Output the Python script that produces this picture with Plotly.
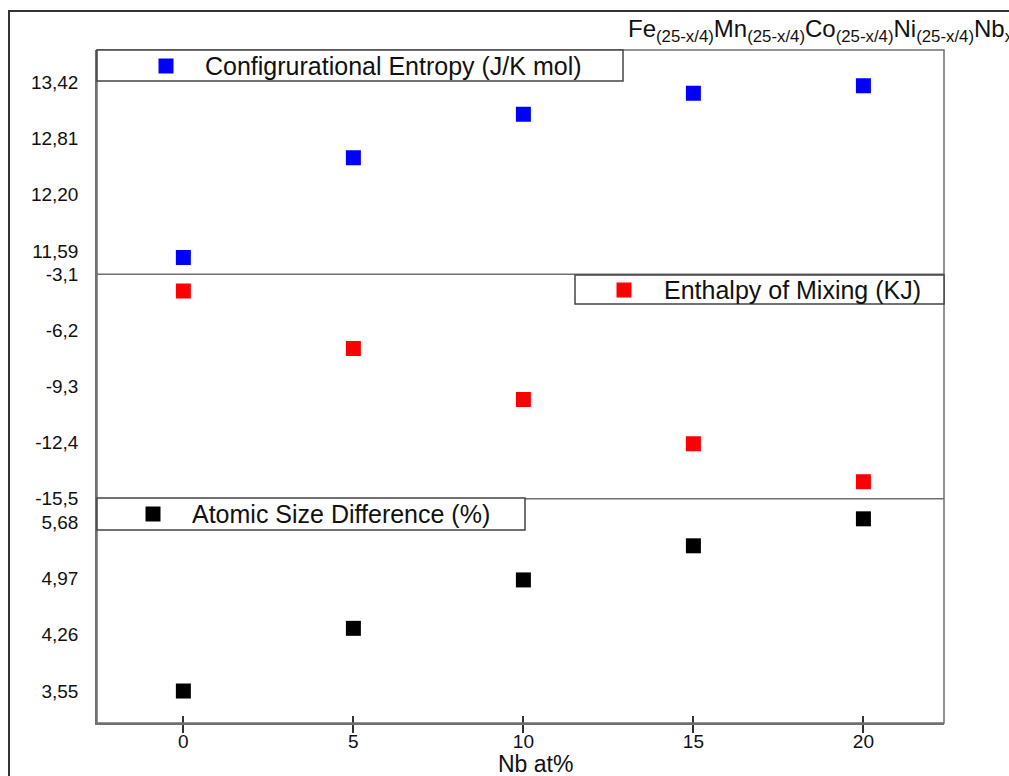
import plotly.graph_objects as go

# ---- data ----
nb_at = [0, 5, 10, 15, 20]
config_entropy = [11.52, 12.60, 13.07, 13.30, 13.38]
enthalpy_mixing = [-4.02, -7.20, -10.02, -12.46, -14.56]
atomic_size_diff = [3.55, 4.34, 4.95, 5.38, 5.72]

x_ticks = [0, 5, 10, 15, 20]
top_tickvals = [11.59, 12.20, 12.81, 13.42]
top_ticktext = ["11,59", "12,20", "12,81", "13,42"]
mid_tickvals = [-15.5, -12.4, -9.3, -6.2, -3.1]
mid_ticktext = ["-15,5", "-12,4", "-9,3", "-6,2", "-3,1"]
bot_tickvals = [3.55, 4.26, 4.97, 5.68]
bot_ticktext = ["3,55", "4,26", "4,97", "5,68"]

series_names = ["Configrurational Entropy (J/K mol)", "Enthalpy of Mixing (KJ)",
                "Atomic Size Difference (%)"]
series_colors = ["#0000ff", "#ff0000", "#000000"]

# ---- layout geometry (pixels) ----
W, H = 1009, 776
L, R, T, B = 97, 944, 50, 723
PW, PH = R - L, B - T


def px_x(px):
    return (px - L) / PW


def px_y(py):
    return (B - py) / PH


FONT = "Liberation Sans, Arial, sans-serif"
AXC = "#707070"
TXT = "#111111"

fig = go.Figure()
fig.add_trace(go.Scatter(x=nb_at, y=config_entropy, mode="markers", xaxis="x", yaxis="y",
                         marker=dict(symbol="square", size=15, color=series_colors[0]),
                         name=series_names[0], showlegend=False))
fig.add_trace(go.Scatter(x=nb_at, y=enthalpy_mixing, mode="markers", xaxis="x", yaxis="y2",
                         marker=dict(symbol="square", size=15, color=series_colors[1]),
                         name=series_names[1], showlegend=False))
fig.add_trace(go.Scatter(x=nb_at, y=atomic_size_diff, mode="markers", xaxis="x", yaxis="y3",
                         marker=dict(symbol="square", size=15, color=series_colors[2]),
                         name=series_names[2], showlegend=False))

xrange = [-2.54, 22.37]
yaxis_common = dict(showgrid=False, zeroline=False, showline=True, linecolor=AXC, linewidth=1.5,
                    ticks="", ticklabelstandoff=13,
                    tickfont=dict(family=FONT, size=19, color=TXT), tickmode="array")

fig.update_layout(
    width=W, height=H,
    margin=dict(l=L, r=W - R, t=T, b=H - B),
    paper_bgcolor="white", plot_bgcolor="white",
    showlegend=False,
    xaxis=dict(range=xrange, anchor="y3", showgrid=False, zeroline=False,
               showline=True, linecolor=AXC, linewidth=1.5,
               tickmode="array", tickvals=x_ticks, ticktext=[str(v) for v in x_ticks],
               ticks="outside", ticklen=8, tickwidth=1.5, tickcolor="#333333",
               ticklabelstandoff=-8,
               tickfont=dict(family=FONT, size=19, color=TXT)),
    xaxis2=dict(range=xrange, matches="x", overlaying="x", anchor="y3", showgrid=False,
                zeroline=False, showline=False, tickmode="array", tickvals=x_ticks,
                ticks="inside", ticklen=7, tickwidth=1.5, tickcolor="#333333",
                showticklabels=False),
    yaxis=dict(domain=[2 / 3, 1], range=[11.338, 13.767], anchor="x",
               tickvals=top_tickvals, ticktext=top_ticktext, **yaxis_common),
    yaxis2=dict(domain=[1 / 3, 2 / 3], range=[-15.5, -3.1], anchor="x",
                tickvals=mid_tickvals, ticktext=mid_ticktext, **yaxis_common),
    yaxis3=dict(domain=[0, 1 / 3], range=[3.147, 5.974], anchor="x",
                tickvals=bot_tickvals, ticktext=bot_ticktext, **yaxis_common),
)

# dummy trace so xaxis2 renders ticks
fig.add_trace(go.Scatter(x=[None], y=[None], xaxis="x2", yaxis="y3", showlegend=False,
                         hoverinfo="skip"))

shapes = []
# outer frame
shapes.append(dict(type="rect", xref="paper", yref="paper",
                   x0=px_x(9), x1=px_x(1030), y0=px_y(800), y1=px_y(11),
                   line=dict(color="#333333", width=2), layer="below"))
# plot frame
shapes.append(dict(type="rect", xref="paper", yref="paper", x0=0, x1=1, y0=0, y1=1,
                   line=dict(color=AXC, width=1.5), layer="above"))
# panel separators
for yy in (1 / 3, 2 / 3):
    shapes.append(dict(type="line", xref="paper", yref="paper", x0=0, x1=1, y0=yy, y1=yy,
                       line=dict(color=AXC, width=1.5)))

# legend boxes
legend_boxes = [(97, 50, 623, 81), (575, 275, 944, 304), (97, 498, 525, 530)]
legend_markers = [(166, 66), (624, 290), (153, 514)]
legend_text_x = [203, 662, 190]
for (bx0, by0, bx1, by1) in legend_boxes:
    shapes.append(dict(type="rect", xref="paper", yref="paper",
                       x0=px_x(bx0), x1=px_x(bx1), y0=px_y(by1), y1=px_y(by0),
                       line=dict(color="#444444", width=1.5), fillcolor="white"))
for (mx, my), col in zip(legend_markers, series_colors):
    shapes.append(dict(type="rect", xref="paper", yref="paper",
                       x0=px_x(mx - 7.5), x1=px_x(mx + 7.5), y0=px_y(my + 7.5), y1=px_y(my - 7.5),
                       line=dict(width=0), fillcolor=col))
fig.update_layout(shapes=shapes)

annotations = []
for (mx, my), tx, name in zip(legend_markers, legend_text_x, series_names):
    annotations.append(dict(xref="paper", yref="paper", x=px_x(tx), y=px_y(my),
                            xanchor="left", yanchor="middle", showarrow=False, text=name,
                            font=dict(family=FONT, size=25, color=TXT)))
annotations.append(dict(xref="paper", yref="paper", x=px_x(626), y=px_y(30),
                        xanchor="left", yanchor="middle", showarrow=False,
                        text="Fe<sub>(25-x/4)</sub>Mn<sub>(25-x/4)</sub>Co<sub>(25-x/4)</sub>"
                             "Ni<sub>(25-x/4)</sub>Nb<sub>x</sub>",
                        font=dict(family=FONT, size=24, color=TXT)))
annotations.append(dict(xref="paper", yref="paper", x=px_x(535), y=px_y(764),
                        xanchor="center", yanchor="middle", showarrow=False, text="Nb at%",
                        font=dict(family=FONT, size=23, color=TXT)))
fig.update_layout(annotations=annotations)

fig.write_html("out.html")
